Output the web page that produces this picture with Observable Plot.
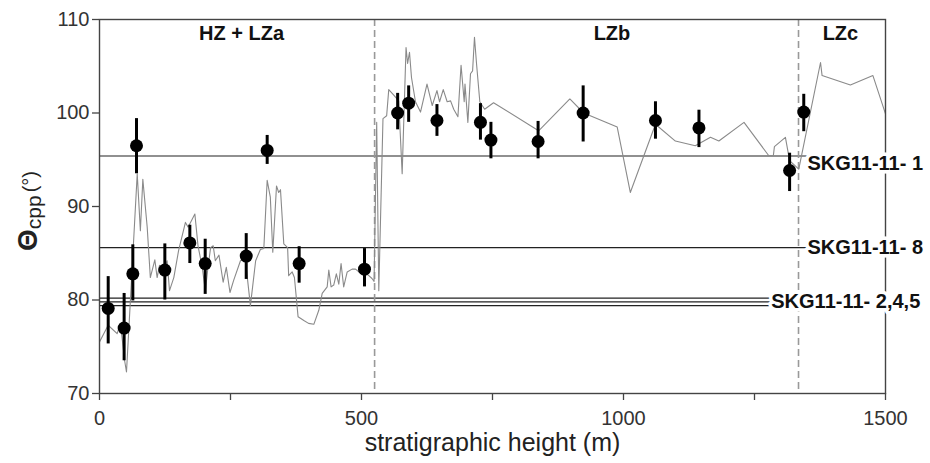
<!DOCTYPE html>
<html>
<head>
<meta charset="utf-8">
<script src="https://cdn.jsdelivr.net/npm/d3@7"></script>
<script src="https://cdn.jsdelivr.net/npm/@observablehq/plot@0.6"></script>
<style>
  html, body { margin: 0; padding: 0; background: #fff; }
  #chart { width: 930px; height: 463px; }
</style>
</head>
<body>
<div id="chart"></div>
<script>
// Continuous profile (thin gray line): stratigraphic height (m) and Θcpp (°)
const profileHeight = [0, 16.5, 33.7, 40, 48, 51.5, 59, 72, 78, 82.7, 91, 97, 105.6, 110, 114.5, 122, 129, 133.6, 141.8, 151, 164, 169, 173.7, 182, 188, 196, 202, 206, 212, 217, 221, 228, 236, 242, 249, 256, 269, 278, 288, 298, 307, 313.6, 320, 326, 330.7, 337.8, 342, 345.4, 351.7, 359, 361, 367.7, 372, 379, 390, 399, 409, 418.5, 425, 434.5, 437.6, 442, 447, 452, 456.7, 461, 466, 472.7, 482, 488.5, 495, 505, 514, 520, 524, 529, 533, 541, 548, 552, 561.6, 571, 577.6, 585, 588, 591.6, 595.4, 603, 612.6, 625, 635, 644, 649, 656, 663.5, 670, 676, 684, 690, 696, 697.5, 703, 708, 712, 715.6, 719.5, 725.8, 735, 752, 838, 897.6, 924, 988, 1013, 1061, 1099, 1137, 1166, 1182, 1230, 1277, 1286, 1288, 1309, 1317, 1334.5, 1376, 1379, 1433, 1476, 1500];
const profileTheta = [75.5, 77.3, 76.4, 77.5, 73.5, 72.3, 80, 93.5, 87.4, 92.9, 87.8, 82.4, 84.3, 82.4, 83.7, 83.2, 84.2, 81.0, 82.4, 85.3, 88.3, 87.8, 88.3, 89.2, 85.8, 83.5, 81.0, 83.0, 85.6, 85.8, 84.2, 84.8, 81.9, 83.5, 80.8, 82.1, 84.2, 84.5, 79.4, 84.2, 85.4, 85.5, 92.8, 91.0, 85.1, 92.2, 91.5, 91.8, 86.0, 85.6, 82.6, 83.0, 82.4, 78.2, 77.8, 77.5, 77.4, 78.9, 80.7, 81.4, 83.2, 81.4, 81.6, 82.8, 81.7, 83.9, 81.4, 83.0, 83.3, 83.3, 83.0, 83.0, 82.6, 82.3, 82.0, 99.0, 81.0, 99.4, 99.7, 102.5, 101.9, 101.3, 93.5, 107.0, 105.3, 106.5, 103.8, 101.2, 100.1, 103.1, 100.8, 102.4, 101.2, 102.5, 101.2, 101.3, 100.4, 99.6, 105.1, 101.2, 103.1, 99.0, 104.2, 104.5, 108.1, 105.3, 101.2, 100.4, 101.1, 98.1, 101.5, 100.0, 98.5, 91.5, 98.8, 97.0, 96.5, 97.4, 97.0, 99.0, 95.45, 95.45, 96.4, 97.4, 94.9, 94.0, 105.4, 104.0, 103.0, 104.0, 99.9];

// Samples (black dots with error bars)
const sampleHeight = [16.6, 47, 63.6, 70.6, 124.7, 172.4, 201.7, 280, 320, 381, 505.7, 569, 590, 644, 727, 747, 837, 923, 1061, 1144, 1317, 1344];
const sampleTheta  = [79.1, 77.0, 82.8, 96.5, 83.2, 86.1, 83.9, 84.7, 96.0, 83.9, 83.3, 100.0, 101.05, 99.2, 99.0, 97.1, 96.95, 100.0, 99.2, 98.4, 93.85, 100.1];
const sampleLow    = [75.3, 73.5, 79.9, 93.5, 80.0, 83.9, 80.6, 82.2, 94.5, 81.8, 81.4, 98.2, 99.0, 97.5, 97.1, 95.1, 95.1, 96.9, 97.2, 96.3, 91.6, 98.0];
const sampleHigh   = [82.5, 80.7, 85.9, 99.4, 86.0, 88.0, 86.5, 87.1, 97.6, 85.7, 85.5, 102.1, 102.9, 100.9, 101.0, 99.0, 99.1, 102.9, 101.2, 100.3, 95.7, 102.0];

// Reference sample lines
const refTheta = [95.4, 85.6, 80.2, 79.8, 79.4];
const refEnd   = [1351, 1351, 1282, 1282, 1282];
const refLabels = ["SKG11-11- 1", "SKG11-11- 8", "SKG11-11- 2,4,5"];
const refLabelHeight = [1351, 1351, 1282];
const refLabelTheta  = [94.55, 85.6, 79.8];

// Zone boundaries and names
const zoneBoundaries = [525, 1334];
const zoneNames = ["HZ + LZa", "LZb", "LZc"];
const zoneCenters = [271, 978, 1414];
const zoneLabelTheta = [108.5, 108.5, 108.5];

// Axis ticks
const xTicks = [0, 250, 500, 750, 1000, 1250, 1500];
const xTickLabels = [0, 500, 1000, 1500];
const yTicks = [70, 80, 90, 100, 110];

const profile = profileHeight.map((h, i) => ({h, t: profileTheta[i]}));
const samples = sampleHeight.map((h, i) => ({h, t: sampleTheta[i], lo: sampleLow[i], hi: sampleHigh[i]}));
const refs = refTheta.map((t, i) => ({t, end: refEnd[i]}));
const labels = refLabels.map((s, i) => ({s, h: refLabelHeight[i], t: refLabelTheta[i]}));
const zones = zoneNames.map((s, i) => ({s, h: zoneCenters[i], t: zoneLabelTheta[i]}));

const font = "'Liberation Sans', Arial, Helvetica, sans-serif";

const svg = Plot.plot({
  width: 930,
  height: 463,
  marginLeft: 99,
  marginRight: 45,
  marginTop: 19,
  marginBottom: 70,
  style: {fontFamily: font, fontSize: "20px", color: "#333", background: "white", overflow: "visible"},
  x: {domain: [0, 1500]},
  y: {domain: [70, 110]},
  marks: [
    Plot.axisX({ticks: xTicks, tickSize: 7, tickPadding: 10, tickFormat: d => xTickLabels.includes(d) ? String(d) : "", label: null, stroke: "#444", strokeWidth: 1.3}),
    Plot.axisY({ticks: yTicks, tickSize: 7, tickPadding: 3, label: null, stroke: "#444", strokeWidth: 1.3}),
    Plot.ruleY(refs, {y: "t", x1: 0, x2: "end", stroke: "#222", strokeWidth: 1.2}),
    Plot.ruleX(zoneBoundaries, {x: d => d, stroke: "#999", strokeWidth: 1.6, strokeDasharray: "7,4"}),
    Plot.line(profile, {x: "h", y: "t", stroke: "#8a8a8a", strokeWidth: 1.1}),
    Plot.frame({stroke: "#444", strokeWidth: 1.4}),
    Plot.ruleX(samples, {x: "h", y1: "lo", y2: "hi", stroke: "#000", strokeWidth: 3}),
    Plot.dot(samples, {x: "h", y: "t", r: 6.5, fill: "#000", stroke: "none"}),
    Plot.text(zones, {x: "h", y: "t", text: "s", fontWeight: "bold", fontSize: 20, fill: "#111"}),
    Plot.text(labels, {x: "h", y: "t", text: "s", textAnchor: "start", fontWeight: "bold", fontSize: 20, fill: "#111", stroke: "white", strokeWidth: 7, paintOrder: "stroke"}),
    Plot.text(["stratigraphic height (m)"], {frameAnchor: "bottom", dy: 57, fontSize: 25, fill: "#222"})
  ]
});

// Rotated y-axis title: Θcpp (°)
const title = d3.select(svg).append("text")
  .attr("transform", "translate(37,211) rotate(-90)")
  .attr("text-anchor", "middle")
  .attr("fill", "#222")
  .style("font-family", font);
title.append("tspan").attr("font-size", 28).attr("font-weight", "bold").text("Θ");
title.append("tspan").attr("font-size", 21).attr("dy", 4).text("cpp");
title.append("tspan").attr("font-size", 20).attr("dy", -4).attr("dx", 3).text("(°)");

document.getElementById("chart").appendChild(svg);
</script>
</body>
</html>
